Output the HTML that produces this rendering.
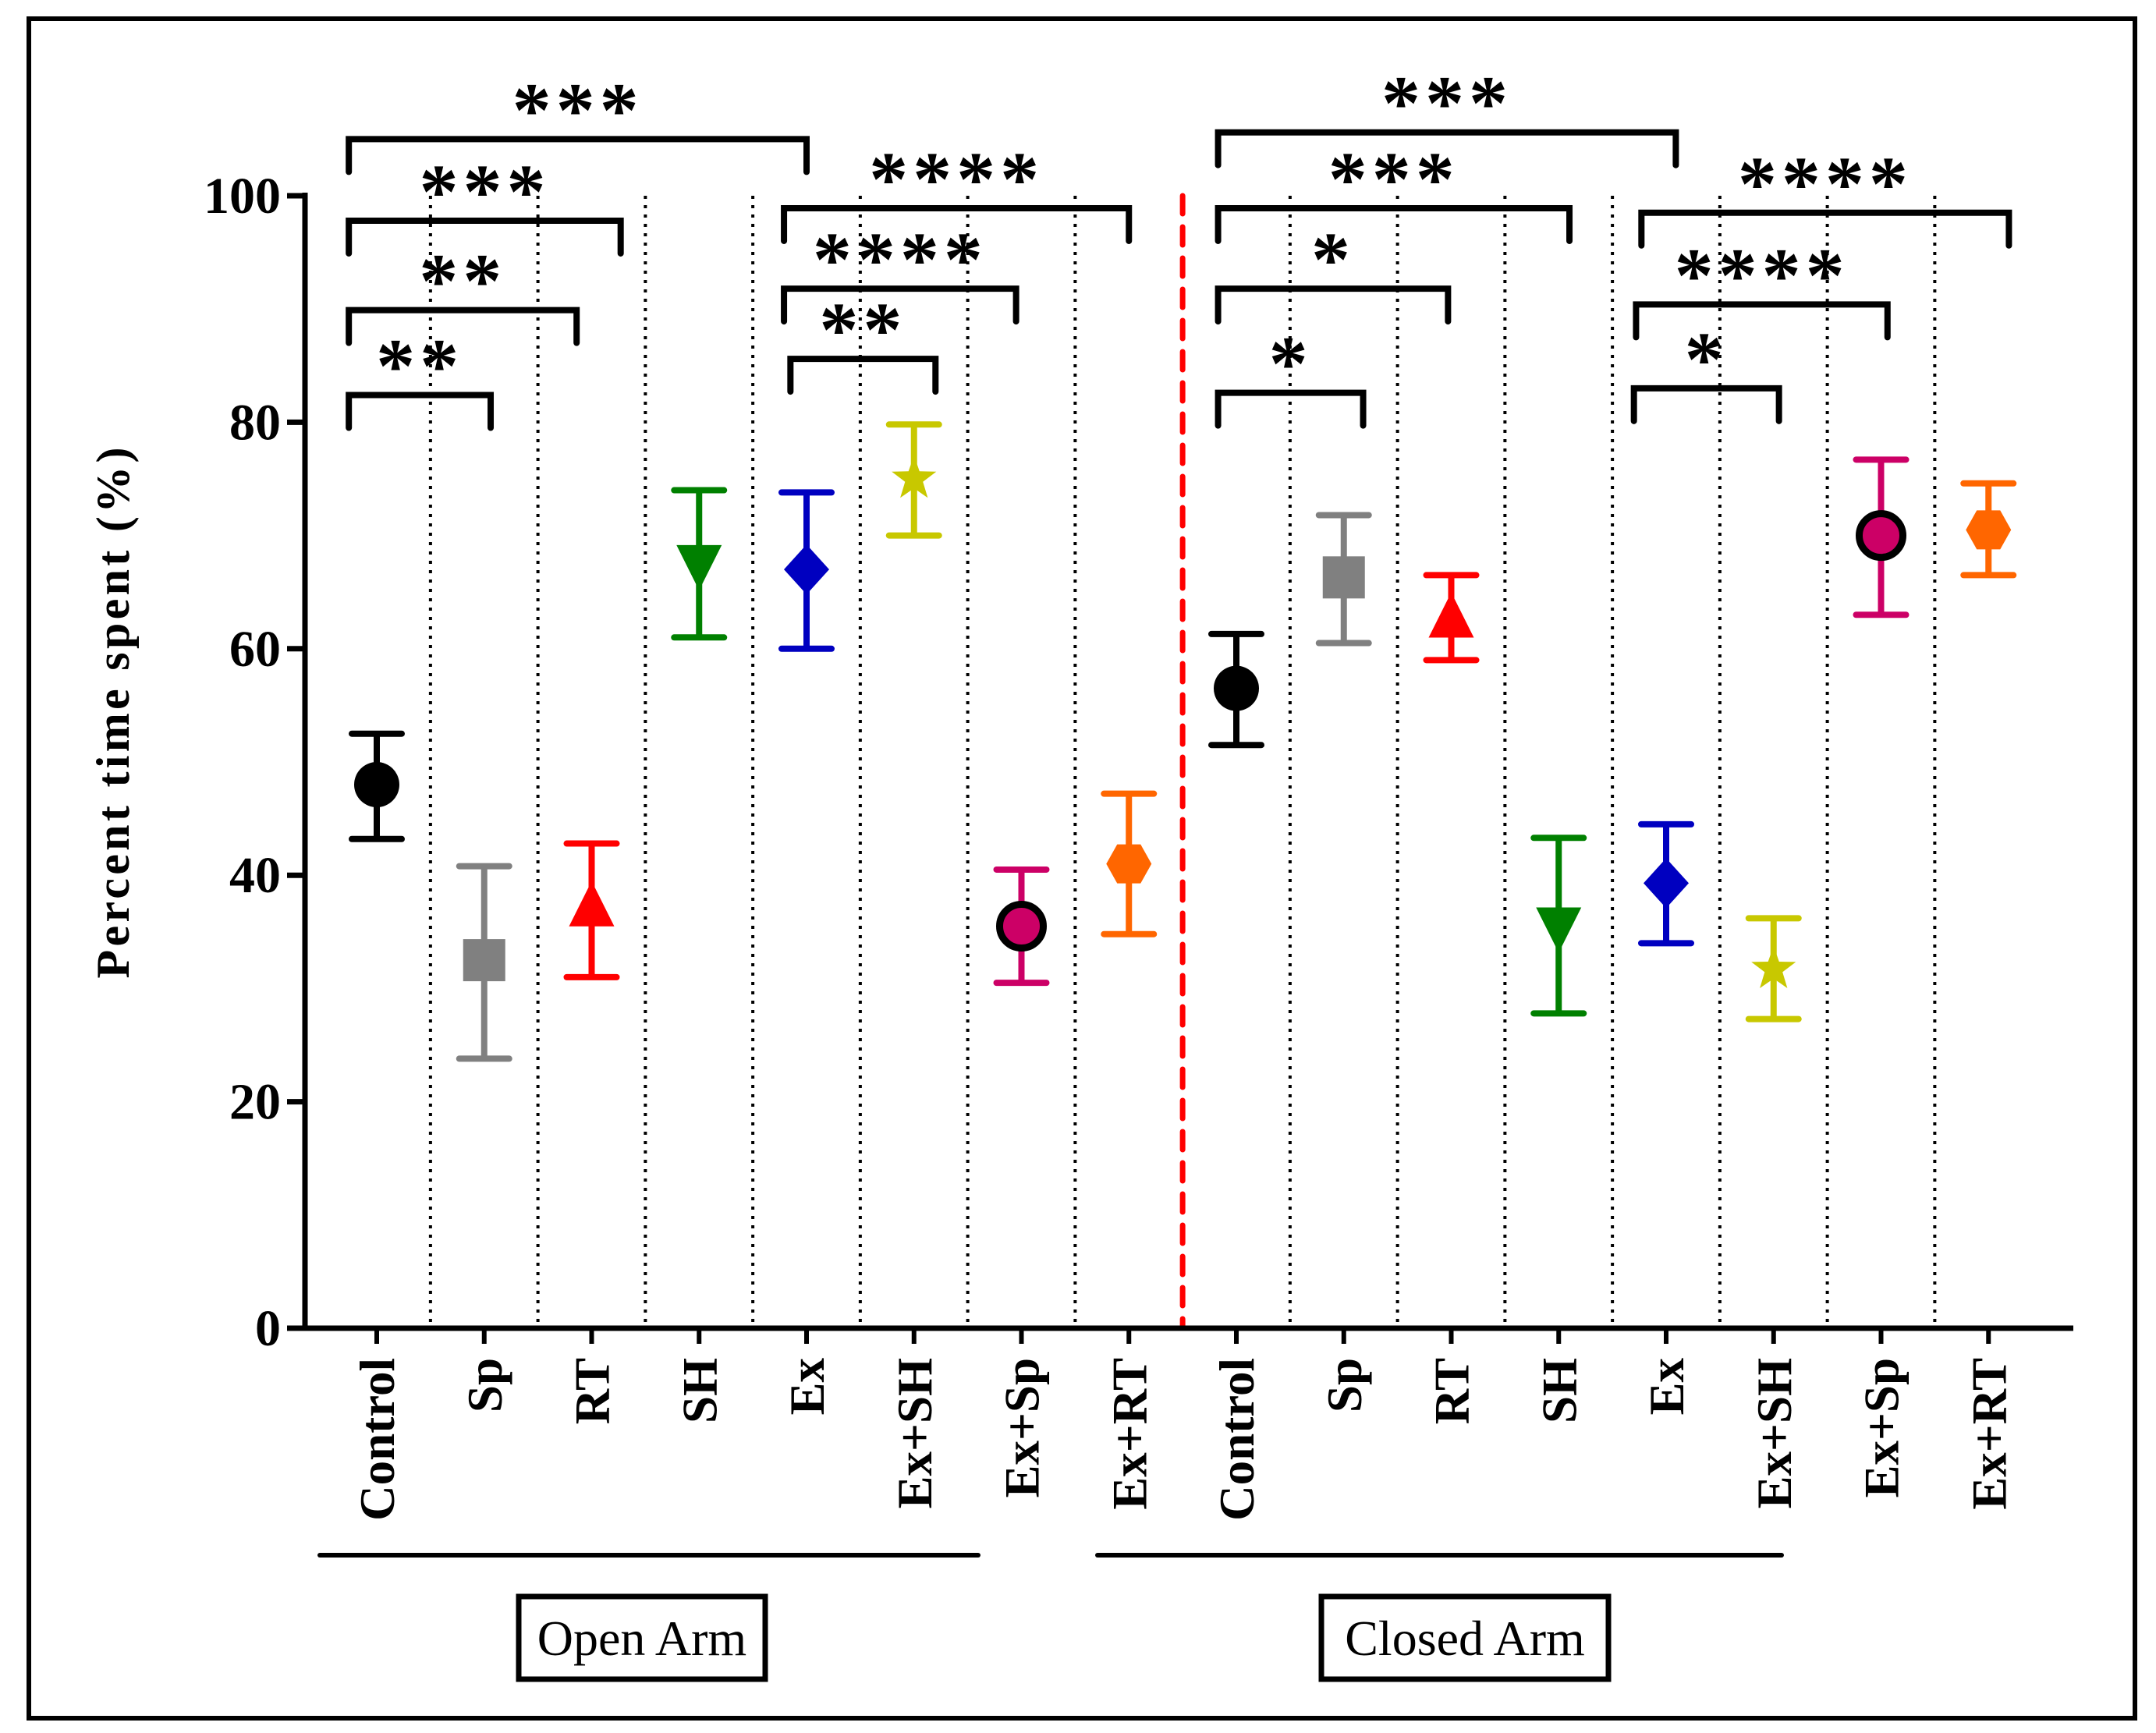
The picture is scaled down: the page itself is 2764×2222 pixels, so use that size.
<!DOCTYPE html>
<html><head><meta charset="utf-8"><style>
html,body{margin:0;padding:0;background:#fff}
svg{display:block}
text{font-family:"Liberation Serif",serif}
</style></head><body>
<svg id="chart" width="2764" height="2222" viewBox="0 0 2764 2222" xmlns="http://www.w3.org/2000/svg">
<rect x="37" y="24" width="2700" height="2179" fill="none" stroke="#000" stroke-width="6"/>
<g id="grid"></g>
<g id="axes"></g>
<g id="brackets"></g>
<g id="marks"></g>
<g id="labels"></g>
</svg>
<script>
const categories = ["Control","Sp","RT","SH","Ex","Ex+SH","Ex+Sp","Ex+RT","Control","Sp","RT","SH","Ex","Ex+SH","Ex+Sp","Ex+RT"];
const means = [48,32.5,37,67.5,67,75,35.5,41, 56.5,66.3,62.5,35.5,39.3,31.7,70,70.5];
const lows  = [43.2,23.8,31,61,60,70,30.5,34.8, 51.5,60.5,59,27.8,34,27.3,63,66.5];
const highs = [52.5,40.8,42.8,74,73.8,79.8,40.5,47.2, 61.3,71.8,66.5,43.3,44.5,36.2,76.7,74.6];
const markers = ["circle","square","tri-up","tri-down","diamond","star","ring","hex","circle","square","tri-up","tri-down","diamond","star","ring","hex"];
const colors = ["#000","#808080","#ff0000","#008000","#0000c0","#c8c800","#cc0066","#ff6600","#000","#808080","#ff0000","#008000","#0000c0","#c8c800","#cc0066","#ff6600"];
const yTicks = [0,20,40,60,80,100];
// brackets: start/end in category units, bar height in data units, stars
const brX1 = [-0.26,-0.26,-0.26,-0.26,3.79,3.79,3.85, 7.83,7.83,7.83,7.83,11.77,11.72,11.7];
const brX2 = [4.0,2.27,1.86,1.06,7.0,5.95,5.2, 12.09,11.1,9.97,9.18,15.19,14.06,13.05];
const brY  = [105.0,97.8,89.9,82.4,98.9,91.8,85.6, 105.6,98.9,91.8,82.6,98.5,90.4,83.0];
const brStars = ["***","***","**","**","****","****","**","***","***","*","*","****","****","*"];

const NS="http://www.w3.org/2000/svg";
const X0=483, DX=137.75, Y0=1703, Y100=251;
const xs = i => X0 + i*DX;
const ys = v => Y0 - (Y0-Y100)*v/100;
function el(tag, attrs, parent){const e=document.createElementNS(NS,tag);for(const k in attrs)e.setAttribute(k,attrs[k]);parent.appendChild(e);return e;}
const G=id=>document.getElementById(id);

for(let i=0;i<15;i++){
  const x=xs(i+0.5);
  if(i===7){
    const l=el('line',{x1:x,y1:ys(100),x2:x,y2:Y0,stroke:'#ff0000','stroke-width':7,'stroke-dasharray':'23 17','stroke-linecap':'round'},G('grid'));
    
    
  } else {
    const l=el('line',{x1:x,y1:ys(100),x2:x,y2:Y0,stroke:'#000','stroke-width':4,'stroke-dasharray':'4 8'},G('grid'));
    
    
  }
}
const ax=G('axes');
const yl=el('line',{x1:391,y1:ys(100)-4,x2:391,y2:Y0+3,stroke:'#000','stroke-width':7},ax);


const xl=el('line',{x1:388,y1:Y0,x2:2658,y2:Y0,stroke:'#000','stroke-width':7},ax);


yTicks.forEach(t=>{
  el('line',{x1:368,y1:ys(t),x2:391,y2:ys(t),stroke:'#000','stroke-width':7},ax);
  const tx=el('text',{x:360,y:ys(t)+22,'text-anchor':'end','font-size':66,'font-weight':'bold'},ax);
  tx.textContent=t;
  
  
});
const yt=el('text',{x:0,y:0,'text-anchor':'middle','font-size':60,'font-weight':'bold',textLength:681,lengthAdjust:'spacing',transform:'translate(165,914) rotate(-90)'},ax);
yt.textContent='Percent time spent (%)';


categories.forEach((c,i)=>{
  el('line',{x1:xs(i),y1:Y0,x2:xs(i),y2:Y0+20,stroke:'#000','stroke-width':6},ax);
  const t=el('text',{x:0,y:0,'text-anchor':'end','font-size':63,'font-weight':'bold',transform:`translate(${xs(i)+22},1741) rotate(-90)`},ax);
  t.textContent=c;
  
  
});
const bg=G('brackets');
brX1.forEach((a,k)=>{
  const x1=xs(a), x2=xs(brX2[k]), y=ys(brY[k]), drop=42;
  const p=el('path',{d:`M${x1},${y+drop} V${y} H${x2} V${y+drop}`,fill:'none',stroke:'#000','stroke-width':8,'stroke-linecap':'round'},bg);
  
  
  const t=el('text',{x:(x1+x2)/2,y:y-4,'text-anchor':'middle','font-size':100,'font-weight':'bold','font-family':'Liberation Sans','letter-spacing':'6'},bg);
  t.textContent=brStars[k];
  
  
});
const mg=G('marks');
means.forEach((m,i)=>{
  const g=el('g',{},mg);
  
  
  const x=xs(i), c=colors[i];
  el('line',{x1:x,y1:ys(lows[i]),x2:x,y2:ys(highs[i]),stroke:c,'stroke-width':8},g);
  el('line',{x1:x-32,y1:ys(lows[i]),x2:x+32,y2:ys(lows[i]),stroke:c,'stroke-width':8,'stroke-linecap':'round'},g);
  el('line',{x1:x-32,y1:ys(highs[i]),x2:x+32,y2:ys(highs[i]),stroke:c,'stroke-width':8,'stroke-linecap':'round'},g);
  const y=ys(m), mk=markers[i];
  if(mk==='circle') el('circle',{cx:x,cy:y,r:29,fill:c},g);
  else if(mk==='ring') el('circle',{cx:x,cy:y,r:28,fill:c,stroke:'#000','stroke-width':9},g);
  else if(mk==='square') el('rect',{x:x-27,y:y-27,width:54,height:54,fill:c},g);
  else if(mk==='tri-up') el('polygon',{points:`${x},${y-36} ${x+29},${y+22} ${x-29},${y+22}`,fill:c},g);
  else if(mk==='tri-down') el('polygon',{points:`${x-29},${y-24} ${x+29},${y-24} ${x},${y+34}`,fill:c},g);
  else if(mk==='diamond') el('polygon',{points:`${x},${y-32} ${x+29},${y} ${x},${y+32} ${x-29},${y}`,fill:c},g);
  else if(mk==='hex') el('polygon',{points:`${x-29},${y} ${x-15},${y-25} ${x+15},${y-25} ${x+29},${y} ${x+15},${y+25} ${x-15},${y+25}`,fill:c},g);
  else if(mk==='star'){let pts=[];for(let k=0;k<10;k++){const r=k%2?12:30,a=-Math.PI/2+k*Math.PI/5;pts.push((x+r*Math.cos(a)).toFixed(1)+','+(y+r*Math.sin(a)).toFixed(1));}el('polygon',{points:pts.join(' '),fill:c},g);}
});
const lg=G('labels');
[[410,1254,665,981,'Open Arm','open-arm'],[1407,2284,1694,2062,'Closed Arm','closed-arm']].forEach(d=>{
  const u=el('line',{x1:d[0],y1:1994,x2:d[1],y2:1994,stroke:'#000','stroke-width':6,'stroke-linecap':'round'},lg);
  
  
  const r=el('rect',{x:d[2],y:2047,width:d[3]-d[2],height:106,fill:'#fff',stroke:'#000','stroke-width':7},lg);
  
  
  const t=el('text',{x:(d[2]+d[3])/2,y:2122,'text-anchor':'middle','font-size':64},lg);
  t.textContent=d[4];
  
  
});
</script>
</body></html>
